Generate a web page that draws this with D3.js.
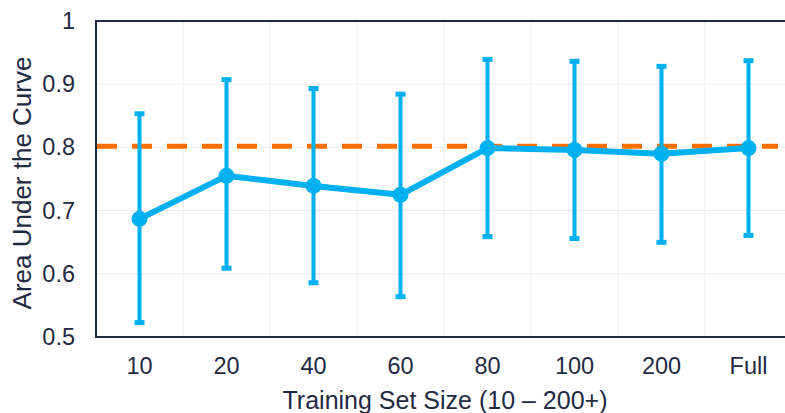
<!DOCTYPE html>
<html><head><meta charset="utf-8">
<script src="https://cdn.jsdelivr.net/npm/d3@7"></script>
<style>body{margin:0;background:#fff}svg{display:block}</style>
</head><body>
<svg id="c" width="785" height="413"></svg>
<script>
const categories = ["10","20","40","60","80","100","200","Full"];
const meanAUC = [0.687, 0.755, 0.739, 0.725, 0.799, 0.796, 0.790, 0.799];
const upperAUC = [0.854, 0.908, 0.894, 0.885, 0.940, 0.937, 0.929, 0.938];
const lowerAUC = [0.522, 0.608, 0.585, 0.563, 0.658, 0.655, 0.649, 0.660];
const baseline = 0.802;
const yTicks = [0.5, 0.6, 0.7, 0.8, 0.9, 1];

const svg = d3.select("#c");
const L = 96, T = 21, R = 792, B = 337;
const x = d3.scaleBand().domain(categories).range([L, R]);
const y = d3.scaleLinear().domain([0.5, 1]).range([B, T]);
const ink = "#1f2a44", blue = "#00b0f0", orange = "#ff7000";
const font = "Liberation Sans, Arial, sans-serif";

// gridlines
svg.append("g").selectAll("line").data(yTicks.slice(1)).join("line")
  .attr("x1", L).attr("x2", R).attr("y1", d => y(d)).attr("y2", d => y(d))
  .attr("stroke", "#ececec").attr("stroke-width", 1);
svg.append("g").selectAll("line").data(categories.slice(1)).join("line")
  .attr("x1", d => x(d)).attr("x2", d => x(d)).attr("y1", T).attr("y2", B)
  .attr("stroke", "#ececec").attr("stroke-width", 1);

// frame
svg.append("path").attr("d", `M${R},${T}H${L}V${B}H${R}`)
  .attr("fill", "none").attr("stroke", ink).attr("stroke-width", 2);

// axes
const yAxis = svg.append("g").attr("transform", `translate(${L},0)`)
  .call(d3.axisLeft(y).tickValues(yTicks).tickFormat(d3.format("~g")).tickSize(0).tickPadding(21));
yAxis.select(".domain").remove();
yAxis.selectAll("text").attr("font-family", font).attr("font-size", 23.5).attr("fill", ink);

const xAxis = svg.append("g").attr("transform", `translate(0,${B})`)
  .call(d3.axisBottom(x).tickSize(0).tickPadding(20));
xAxis.select(".domain").remove();
xAxis.selectAll("text").attr("font-family", font).attr("font-size", 23.5).attr("fill", ink);

// titles
svg.append("text").attr("x", 445).attr("y", 409).attr("text-anchor", "middle")
  .attr("font-family", font).attr("font-size", 25).attr("fill", ink)
  .text("Training Set Size (10 – 200+)");
svg.append("text").attr("transform", "translate(31,183) rotate(-90)").attr("text-anchor", "middle")
  .attr("font-family", font).attr("font-size", 26).attr("fill", ink)
  .text("Area Under the Curve");

// baseline dashed
svg.append("line").attr("x1", L + 1).attr("x2", 778).attr("y1", y(baseline)).attr("y2", y(baseline))
  .attr("stroke", orange).attr("stroke-width", 5).attr("stroke-dasharray", "20,15");

const cx = d => x(d) + x.bandwidth() / 2;
const data = categories.map((c, i) => ({c, m: meanAUC[i], u: upperAUC[i], l: lowerAUC[i]}));

// error bars
const eb = svg.append("g");
eb.selectAll("line.v").data(data).join("line")
  .attr("x1", d => cx(d.c)).attr("x2", d => cx(d.c)).attr("y1", d => y(d.u)).attr("y2", d => y(d.l))
  .attr("stroke", blue).attr("stroke-width", 4);
eb.selectAll("rect.u").data(data).join("rect")
  .attr("x", d => cx(d.c) - 5).attr("y", d => y(d.u) - 2).attr("width", 10).attr("height", 5).attr("fill", blue);
eb.selectAll("rect.l").data(data).join("rect").attr("class","l")
  .attr("x", d => cx(d.c) - 5).attr("y", d => y(d.l) - 3).attr("width", 10).attr("height", 5).attr("fill", blue);

// line
svg.append("path").datum(data)
  .attr("d", d3.line().x(d => cx(d.c)).y(d => y(d.m)))
  .attr("fill", "none").attr("stroke", blue).attr("stroke-width", 6).attr("stroke-linejoin", "round");
svg.append("g").selectAll("circle").data(data).join("circle")
  .attr("cx", d => cx(d.c)).attr("cy", d => y(d.m)).attr("r", 8).attr("fill", blue);
</script>
</body></html>
